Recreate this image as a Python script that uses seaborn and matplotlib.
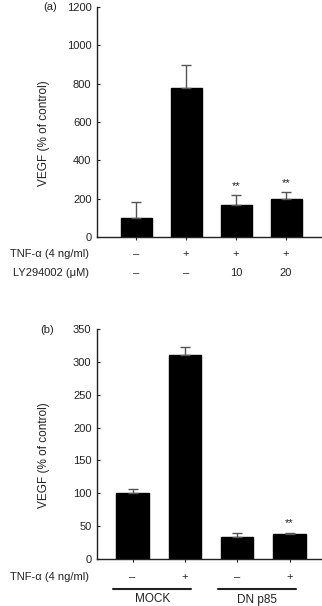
import pandas as pd
import seaborn as sns
import matplotlib.pyplot as plt
import matplotlib.transforms as mtransforms

# Panel (a) data
a_groups = ["c1", "c2", "c3", "c4"]
a_vegf = [100, 775, 168, 197]
a_err = [85, 122, 52, 40]
a_tnf = ["\u2013", "+", "+", "+"]
a_ly = ["\u2013", "\u2013", "10", "20"]
a_stars = ["", "", "**", "**"]

# Panel (b) data
b_groups = ["m1", "m2", "d1", "d2"]
b_vegf = [100, 310, 33, 38]
b_err = [7, 13, 6, 1.5]
b_tnf = ["\u2013", "+", "\u2013", "+"]
b_stars = ["", "", "", "**"]
b_cells = ["MOCK", "DN p85"]

sns.set_style("ticks")
plt.rcParams['font.family'] = ['Liberation Sans', 'DejaVu Sans']
plt.rcParams['font.size'] = 8
plt.rcParams['text.color'] = '#222222'
plt.rcParams['xtick.color'] = '#222222'
plt.rcParams['ytick.color'] = '#222222'
plt.rcParams['axes.labelcolor'] = '#222222'

fig = plt.figure(figsize=(3.22, 6.06), dpi=100)
ax_a = fig.add_axes([97 / 322, 1 - 237 / 606, 225 / 322, 230 / 606])
ax_b = fig.add_axes([97 / 322, 1 - 559 / 606, 225 / 322, 230 / 606])


def draw_panel(ax, groups, vals, errs, stars, ymax, ystep, star_off):
    df = pd.DataFrame({"g": groups, "v": vals})
    sns.barplot(data=df, x="g", y="v", color="black", saturation=1,
                width=0.62, errorbar=None, ax=ax)
    for p in ax.patches:
        p.set_edgecolor("black")
    xs = list(range(len(groups)))
    ax.errorbar(xs, vals, yerr=[[0] * len(vals), errs], fmt="none",
                ecolor="#555555", elinewidth=1, capsize=3.5, capthick=1)
    for i, s in enumerate(stars):
        if s:
            ax.text(i, vals[i] + errs[i] + star_off, s, ha="center",
                    va="center", fontsize=8)
    ax.set_ylim(0, ymax)
    ax.set_yticks(range(0, ymax + 1, ystep))
    ax.tick_params(axis="y", direction="in", length=2.5, width=0.8, pad=4)
    ax.tick_params(axis="x", direction="out", length=2, width=0.8)
    ax.set_xticklabels([])
    ax.set_xlabel("")
    ax.set_ylabel("VEGF (% of control)", fontsize=8.5)
    ax.yaxis.set_label_coords(-0.209, 0.45)
    sns.despine(ax=ax)
    ax.spines["left"].set_linewidth(1)
    ax.spines["bottom"].set_linewidth(1)
    ax.spines["left"].set_color("#222222")
    ax.spines["bottom"].set_color("#222222")


draw_panel(ax_a, a_groups, a_vegf, a_err, a_stars, 1200, 200, 45)
ax_a.set_xlim(-0.78, 3.72)
draw_panel(ax_b, b_groups, b_vegf, b_err, b_stars, 350, 50, 15)
ax_b.set_xlim(-0.68, 3.62)

# condition rows under panel (a)
trans_a = mtransforms.blended_transform_factory(ax_a.transData, fig.transFigure)
for i, (t, l) in enumerate(zip(a_tnf, a_ly)):
    ax_a.text(i, 1 - 254 / 606, t, transform=trans_a, ha="center", va="center")
    ax_a.text(i, 1 - 273 / 606, l, transform=trans_a, ha="center", va="center")
fig.text(89 / 322, 1 - 254 / 606, "TNF-\u03b1 (4 ng/ml)", ha="right", va="center")
fig.text(89 / 322, 1 - 273 / 606, "LY294002 (\u03bcM)", ha="right", va="center")
fig.text(43 / 322, 1 - 7 / 606, "(a)", ha="left", va="center")

# condition rows under panel (b)
trans_b = mtransforms.blended_transform_factory(ax_b.transData, fig.transFigure)
for i, t in enumerate(b_tnf):
    ax_b.text(i, 1 - 577 / 606, t, transform=trans_b, ha="center", va="center")
fig.text(89 / 322, 1 - 577 / 606, "TNF-\u03b1 (4 ng/ml)", ha="right", va="center")
fig.text(47 / 322, 1 - 330 / 606, "(b)", ha="center", va="center")
for k, name in enumerate(b_cells):
    x0, x1 = 2 * k - 0.37, 2 * k + 1.12
    ax_b.plot([x0, x1], [1 - 589 / 606] * 2, transform=trans_b, color="#222222",
              lw=1.5, clip_on=False)
    ax_b.text((x0 + x1) / 2, 1 - 599.5 / 606, name, transform=trans_b,
              ha="center", va="center", fontsize=8.5)

plt.savefig("out.png", dpi=100)
